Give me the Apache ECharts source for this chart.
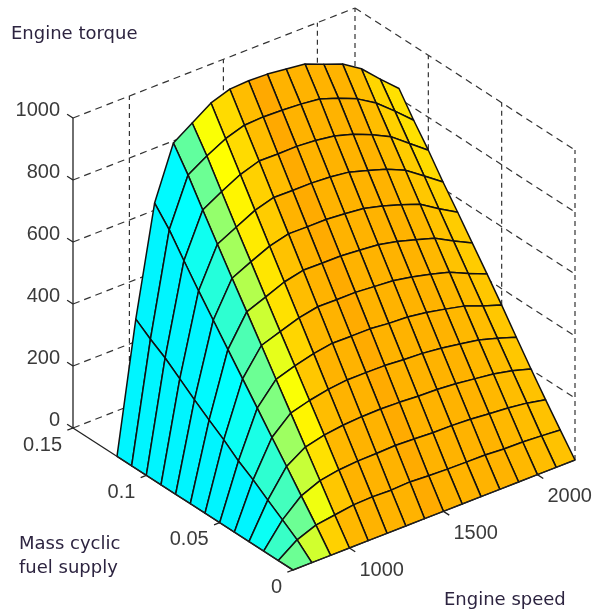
<!DOCTYPE html>
<html>
<head>
<meta charset="utf-8">
<style>html,body{margin:0;background:#fff}#chart{width:597px;height:614px}</style>
<script src="https://cdn.jsdelivr.net/npm/echarts@6/dist/echarts.min.js"></script>
</head>
<body>
<div id="chart"></div>
<script>
var speeds = [700, 800, 900, 1000, 1100, 1200, 1300, 1400, 1500, 1600, 1700, 1800, 1900, 2000, 2100, 2200];
var fuels = [0, 0.01, 0.02, 0.03, 0.04, 0.05, 0.06, 0.07, 0.08, 0.09, 0.1, 0.11, 0.12];

var torque = [
    [0, 0, 0, 0, 0, 0, 0, 0, 0, 0, 0, 0, 0],
    [0, 43, 77, 110, 145, 175, 213, 246, 281, 318, 355, 385, 419],
    [0, 67, 131, 195, 258, 322, 386, 450, 514, 578, 645, 714, 770],
    [0, 76, 156, 234, 313, 391, 470, 548, 626, 705, 785, 867, 940],
    [0, 85, 167, 249, 330, 411, 491, 572, 655, 736, 820, 905, 981],
    [0, 87, 172, 257, 342, 427, 512, 597, 682, 767, 852, 937, 1022],
    [0, 85, 173, 261, 349, 437, 524, 611, 698, 785, 872, 957, 1043],
    [0, 88, 175, 262, 349, 436, 523, 610, 697, 784, 871, 960, 1046],
    [0, 84, 172, 260, 348, 436, 523, 610, 697, 784, 872, 958, 1044],
    [0, 82, 169, 256, 343, 430, 518, 605, 692, 780, 867, 954, 1037],
    [0, 81, 168, 254, 340, 427, 513, 599, 685, 772, 858, 947, 1029],
    [0, 80, 165, 249, 333, 418, 502, 586, 670, 754, 840, 926, 1005],
    [0, 76, 159, 241, 323, 405, 487, 568, 650, 734, 815, 900, 982],
    [0, 75, 154, 233, 312, 391, 470, 549, 628, 707, 785, 863, 943],
    [0, 71, 146, 220, 294, 368, 442, 516, 590, 665, 739, 813, 886],
    [0, 66, 133, 202, 274, 347, 417, 486, 555, 622, 694, 760, 832]
];

// colour value of each mesh cell, one row per fuel step, one column per speed step
var cellColor = [
    [.48, .58, .67, .695, .70, .70, .70, .708, .70, .70, .70, .70, .695, .69, .685],
    [.43, .48, .61, .68, .70, .70, .70, .708, .70, .70, .70, .70, .695, .69, .685],
    [.385, .44, .57, .655, .695, .70, .70, .708, .70, .70, .70, .70, .695, .69, .685],
    [.365, .42, .53, .635, .69, .70, .70, .708, .70, .70, .70, .70, .695, .69, .68],
    [.365, .40, .50, .62, .68, .70, .70, .708, .70, .70, .70, .70, .695, .69, .68],
    [.365, .385, .48, .60, .665, .695, .70, .708, .70, .70, .70, .70, .695, .69, .68],
    [.365, .375, .45, .575, .655, .69, .70, .708, .70, .70, .70, .70, .695, .685, .675],
    [.365, .37, .42, .55, .65, .685, .70, .708, .70, .70, .70, .70, .695, .685, .675],
    [.365, .365, .41, .535, .645, .675, .70, .708, .70, .70, .70, .70, .69, .68, .67],
    [.365, .365, .39, .52, .635, .67, .69, .708, .70, .70, .70, .70, .69, .675, .66],
    [.365, .365, .375, .48, .625, .66, .69, .71, .70, .70, .70, .70, .69, .67, .655],
    [.365, .365, .37, .47, .62, .66, .69, .71, .70, .70, .70, .70, .69, .665, .655]
];

var torqueTicks = [0, 200, 400, 600, 800, 1000];
var fuelTicks = [0, 0.05, 0.1, 0.15];
var fuelLabels = ['0', '0.05', '0.1', '0.15'];
var speedTicks = [1000, 1500, 2000];

var jet = ['#00008f', '#0000ff', '#0080ff', '#00ffff', '#80ff80', '#ffff00', '#ff8000', '#ff0000', '#800000'];

var speedMin = 700, speedMax = 2200, fuelMax = 0.15, torqueMax = 1000;

// MATLAB style 3D view, flattened onto a hidden pixel sized cartesian grid
function project(s, f, t) {
    var a = (s - speedMin) / (speedMax - speedMin);
    var b = f / fuelMax;
    return [293 + a * 282 - b * 220, 570 - a * 110 - b * 142 - t * 0.31];
}

function lineEl(api, p, q, style) {
    var c1 = api.coord(p), c2 = api.coord(q);
    return {
        type: 'line',
        shape: { x1: c1[0], y1: c1[1], x2: c2[0], y2: c2[1] },
        style: style
    };
}

function textEl(api, p, str, dx, dy, align) {
    var c = api.coord(p);
    return {
        type: 'text',
        style: {
            x: c[0] + dx, y: c[1] + dy, text: str, textAlign: align, textVerticalAlign: 'middle',
            fill: '#3a3a3a', font: '20px "Liberation Sans", Arial, sans-serif'
        }
    };
}

function renderWalls(params, api) {
    var dash = { stroke: '#333', lineWidth: 1.2, lineDash: [7, 5], fill: null };
    var vdash = { stroke: '#333', lineWidth: 1.2, lineDash: [5, 4], fill: null };
    var kids = [];
    torqueTicks.forEach(function (t) {
        kids.push(lineEl(api, project(speedMin, fuelMax, t), project(speedMax, fuelMax, t), dash));
        kids.push(lineEl(api, project(speedMax, fuelMax, t), project(speedMax, 0, t), dash));
    });
    speedTicks.concat([speedMax]).forEach(function (s) {
        kids.push(lineEl(api, project(s, fuelMax, 0), project(s, fuelMax, torqueMax), vdash));
    });
    fuelTicks.forEach(function (f) {
        if (f < fuelMax) kids.push(lineEl(api, project(speedMax, f, 0), project(speedMax, f, torqueMax), vdash));
    });
    return { type: 'group', children: kids };
}

function renderCell(params, api) {
    var k = api.value(0), n = api.value(1);
    var pts = [
        project(speeds[k], fuels[n], torque[k][n]),
        project(speeds[k + 1], fuels[n], torque[k + 1][n]),
        project(speeds[k + 1], fuels[n + 1], torque[k + 1][n + 1]),
        project(speeds[k], fuels[n + 1], torque[k][n + 1])
    ].map(function (p) { return api.coord(p); });
    return {
        type: 'polygon',
        shape: { points: pts },
        style: { fill: api.visual('color'), stroke: '#111', lineWidth: 1.5, lineJoin: 'round' }
    };
}

function renderAxes(params, api) {
    var solid = { stroke: '#222', lineWidth: 1.3, fill: null };
    var kids = [
        lineEl(api, project(speedMin, fuelMax, 0), project(speedMin, fuelMax, torqueMax), solid),
        lineEl(api, project(speedMin, fuelMax, 0), project(speedMin, 0, 0), solid),
        lineEl(api, project(speedMin, 0, 0), project(speedMax, 0, 0), solid)
    ];
    torqueTicks.forEach(function (t) {
        kids.push(lineEl(api, project(speedMin, fuelMax, t), project(speedMin, fuelMax + 0.004, t), solid));
        kids.push(textEl(api, project(speedMin, fuelMax, t), String(t), -13, -8, 'right'));
    });
    fuelTicks.forEach(function (f, i) {
        kids.push(lineEl(api, project(speedMin, f, 0), project(speedMin - 30, f, 0), solid));
        kids.push(textEl(api, project(speedMin, f, 0), fuelLabels[i], -11, 17, 'right'));
    });
    speedTicks.forEach(function (s) {
        kids.push(lineEl(api, project(s, 0, 0), project(s, -0.004, 0), solid));
        kids.push(textEl(api, project(s, 0, 0), String(s), 10, 22, 'left'));
    });
    return { type: 'group', children: kids };
}

var cells = [];
for (var n = fuels.length - 2; n >= 0; n--) {
    for (var k = speeds.length - 2; k >= 0; k--) {
        cells.push([k, n, cellColor[n][k]]);
    }
}

var titleFont = '18px "DejaVu Sans", sans-serif';
var myChart = echarts.init(document.getElementById('chart'), null, { renderer: 'canvas' });
myChart.setOption({
    animation: false,
    backgroundColor: '#fff',
    grid: { left: 0, right: 0, top: 0, bottom: 0 },
    xAxis: { type: 'value', min: 0, max: 597, show: false },
    yAxis: { type: 'value', min: 0, max: 614, inverse: true, show: false },
    visualMap: {
        show: false, type: 'continuous', min: 0, max: 1, dimension: 2, seriesIndex: 1,
        inRange: { color: jet }
    },
    graphic: [
        { type: 'text', left: 11, top: 25, style: { text: 'Engine torque', font: titleFont, fill: '#2d2440' } },
        { type: 'text', left: 19, top: 535, style: { text: 'Mass cyclic', font: titleFont, fill: '#2d2440' } },
        { type: 'text', left: 19, top: 559, style: { text: 'fuel supply', font: titleFont, fill: '#2d2440' } },
        { type: 'text', left: 444, top: 591, style: { text: 'Engine speed', font: titleFont, fill: '#2d2440' } }
    ],
    series: [
        { type: 'custom', data: [[0, 0]], renderItem: renderWalls, silent: true, clip: false, z: 1 },
        { type: 'custom', data: cells, renderItem: renderCell, encode: { x: 0, y: 1 }, silent: true, clip: false, z: 2 },
        { type: 'custom', data: [[0, 0]], renderItem: renderAxes, silent: true, clip: false, z: 3 }
    ]
});
</script>
</body>
</html>
